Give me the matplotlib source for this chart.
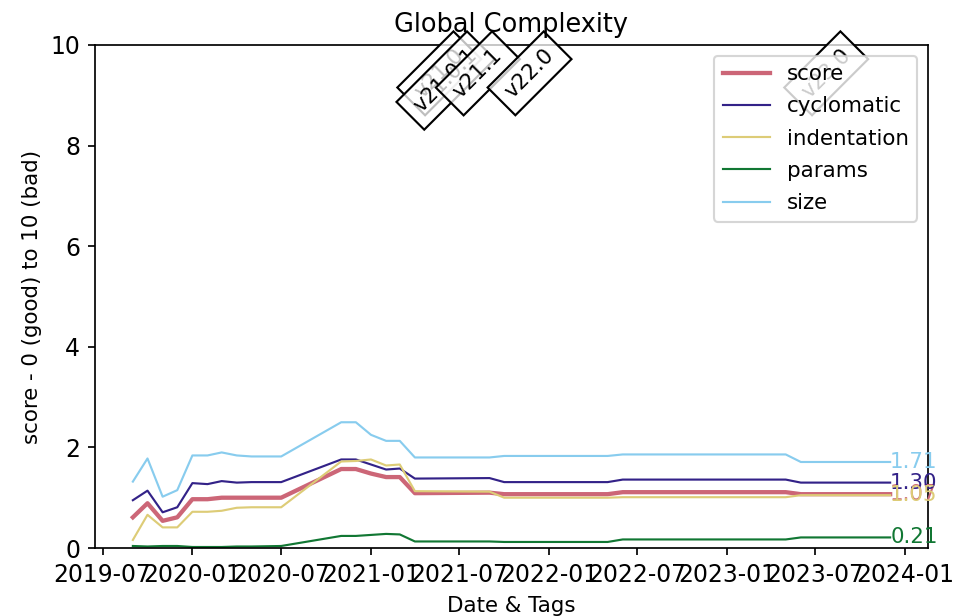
import datetime as dt
import matplotlib
matplotlib.use("Agg")
import matplotlib.pyplot as plt
import matplotlib.dates as mdates

dates = ["2019-09-01", "2019-10-01", "2019-11-01", "2019-12-01", "2020-01-01",
         "2020-02-01", "2020-03-01", "2020-04-01", "2020-05-01", "2020-07-01",
         "2020-11-01", "2020-12-01", "2021-01-01", "2021-02-01", "2021-03-01",
         "2021-04-01", "2021-09-01", "2021-10-01", "2022-05-01", "2022-06-01",
         "2023-05-01", "2023-06-01", "2023-12-01"]

score = [0.61, 0.89, 0.54, 0.61, 0.97, 0.97, 1.00, 1.00, 1.00, 1.00, 1.57, 1.57,
         1.48, 1.41, 1.41, 1.09, 1.10, 1.07, 1.07, 1.11, 1.11, 1.07, 1.07]
cyclomatic = [0.95, 1.14, 0.71, 0.81, 1.29, 1.27, 1.33, 1.30, 1.31, 1.31, 1.76, 1.76,
              1.66, 1.56, 1.58, 1.38, 1.39, 1.31, 1.31, 1.36, 1.36, 1.30, 1.30]
indentation = [0.16, 0.66, 0.41, 0.41, 0.72, 0.72, 0.74, 0.80, 0.81, 0.81, 1.72, 1.73,
               1.76, 1.64, 1.66, 1.13, 1.12, 1.00, 1.00, 1.01, 1.01, 1.05, 1.05]
params = [0.04, 0.03, 0.04, 0.04, 0.02, 0.02, 0.02, 0.03, 0.03, 0.04, 0.24, 0.24,
          0.26, 0.28, 0.27, 0.13, 0.13, 0.12, 0.12, 0.17, 0.17, 0.21, 0.21]
size = [1.32, 1.78, 1.02, 1.15, 1.84, 1.84, 1.90, 1.84, 1.82, 1.82, 2.50, 2.50,
        2.25, 2.13, 2.13, 1.80, 1.80, 1.83, 1.83, 1.86, 1.86, 1.71, 1.71]

tags = ["v21.0", "v21.0.1", "v21.1", "v22.0", "v23.0"]
tag_dates = ["2021-05-21", "2021-06-03", "2021-08-08", "2021-11-22", "2023-07-23"]

series = [("score", score, "#CC6677", 2.0),
          ("cyclomatic", cyclomatic, "#332288", 1.0),
          ("indentation", indentation, "#DDCC77", 1.0),
          ("params", params, "#117733", 1.0),
          ("size", size, "#88CCEE", 1.0)]

x = [dt.datetime.strptime(d, "%Y-%m-%d") for d in dates]

fig = plt.figure(figsize=(974 / 154, 616 / 154), dpi=154)
ax = fig.add_axes([95 / 974, 1 - 548 / 616, 833 / 974, 503 / 616])

for name, vals, color, lw in series:
    ax.plot(x, vals, color=color, lw=lw, label=name)
    ax.text(x[-1], vals[-1], f"{vals[-1]:.2f}", color=color, ha="left", va="center")

ax.set_ylim(0, 10)

for tag, d in zip(tags, tag_dates):
    ax.text(dt.datetime.strptime(d, "%Y-%m-%d"), 10, tag, rotation=45,
            ha="center", va="top",
            bbox=dict(boxstyle="square,pad=0.45", fc=(1, 1, 1, 0.75), ec="black"))

ax.xaxis.set_major_locator(mdates.MonthLocator(bymonth=(1, 7)))
ax.xaxis.set_major_formatter(mdates.DateFormatter("%Y-%m"))
ax.tick_params(labelsize=11)

ax.set_title("Global Complexity")
ax.set_xlabel("Date & Tags")
ax.set_ylabel("score - 0 (good) to 10 (bad)")
ax.legend(loc="upper right", handlelength=2.2, labelspacing=0.57)

fig.savefig("out.png", dpi=154)
